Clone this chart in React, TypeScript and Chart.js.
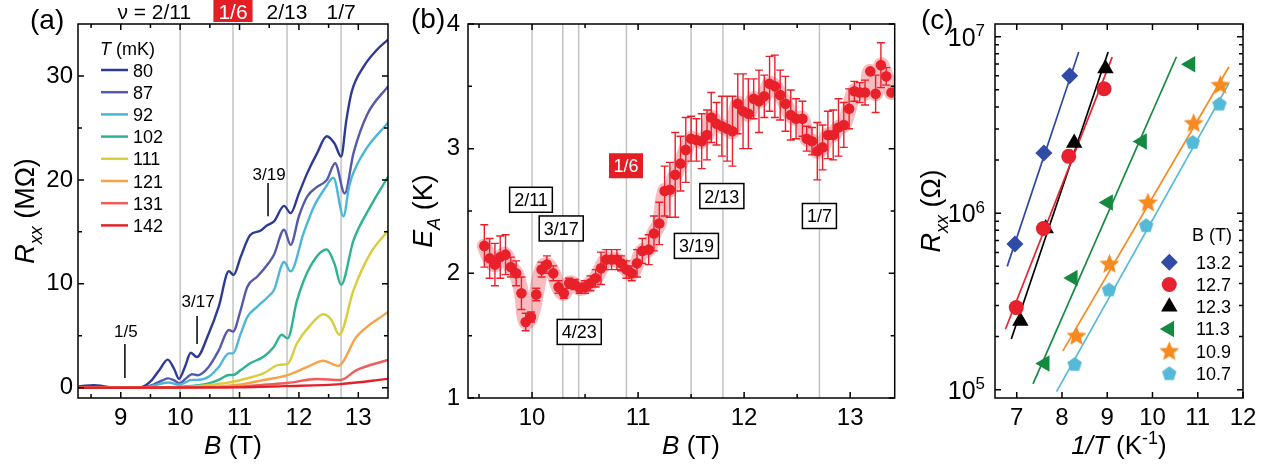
import React, { useEffect, useRef } from "react";
import { Chart, registerables } from "chart.js";
import { drawPoint } from "chart.js/helpers";

Chart.register(...registerables);

const FONT = "'Liberation Sans', Arial, Helvetica, sans-serif";
Chart.defaults.font.family = FONT;
Chart.defaults.color = "#000";

// ================= Panel (a): Rxx (MΩ) vs B (T) =================
const tempsA = ["80", "87", "92", "102", "111", "121", "131", "142"];
const colorsA = ["#2e3b95", "#5559ab", "#4cb6d8", "#2db392", "#d8cd3c", "#f7a247", "#f25b5b", "#e2222a"];

const bA80 = [8.28, 8.4, 8.55, 8.7, 8.85, 9.2, 9.35, 9.5, 9.65, 9.79, 9.9, 9.98, 10.08, 10.18, 10.28, 10.48, 10.65, 10.82, 10.9, 11.02, 11.18, 11.35, 11.46, 11.58, 11.75, 11.86, 12.0, 12.14, 12.3, 12.47, 12.6, 12.71, 12.8, 12.89, 13.09, 13.31, 13.5];
const rA80 = [0.1, 0.2, 0.25, 0.15, 0.02, 0.0, 0.05, 0.6, 1.7, 2.7, 1.8, 0.85, 2.0, 3.37, 2.95, 5.2, 7.8, 11.2, 10.85, 12.6, 14.7, 15.1, 15.6, 16.0, 17.5, 16.8, 18.7, 20.65, 22.5, 24.2, 23.5, 22.25, 25.8, 28.5, 30.9, 32.5, 33.5];
const bA87 = [8.28, 9.2, 9.4, 9.55, 9.7, 9.8, 9.9, 9.99, 10.1, 10.2, 10.29, 10.48, 10.65, 10.82, 10.89, 11.02, 11.13, 11.3, 11.49, 11.58, 11.75, 11.86, 12.0, 12.14, 12.3, 12.47, 12.61, 12.77, 12.92, 13.15, 13.5];
const rA87 = [0, 0, 0.03, 0.3, 0.7, 0.9, 0.7, 0.42, 0.9, 1.3, 1.2, 2.0, 3.6, 5.55, 5.4, 7.5, 9.7, 10.7, 12.0, 12.8, 15.2, 13.75, 16.5, 18.4, 19.3, 20.0, 21.6, 18.7, 22.6, 26.3, 29.0];
const bA92 = [8.28, 9.2, 9.4, 9.55, 9.8, 9.99, 10.2, 10.29, 10.48, 10.65, 10.82, 10.89, 11.02, 11.13, 11.3, 11.49, 11.58, 11.75, 11.86, 12.08, 12.25, 12.44, 12.58, 12.75, 12.85, 13.09, 13.5];
const rA92 = [0, 0, 0.02, 0.2, 0.5, 0.3, 0.75, 0.75, 1.06, 2.0, 3.3, 3.3, 5.2, 6.8, 7.8, 8.8, 9.4, 12.1, 11.2, 14.9, 17.4, 19.2, 20.2, 16.5, 19.5, 22.6, 25.5];
const bA102 = [8.28, 9.5, 10.0, 10.48, 10.65, 10.82, 10.89, 11.02, 11.18, 11.41, 11.58, 11.71, 11.81, 11.97, 12.19, 12.47, 12.6, 12.71, 12.92, 13.2, 13.5];
const rA102 = [0, 0, 0.1, 0.42, 0.75, 1.22, 1.22, 1.7, 2.35, 3.0, 3.95, 5.1, 4.75, 8.45, 11.65, 13.3, 11.9, 9.9, 14.2, 17.4, 20.3];
const bA111 = [8.28, 9.8, 10.48, 10.82, 11.02, 11.41, 11.66, 11.81, 11.97, 12.19, 12.41, 12.55, 12.68, 12.92, 13.2, 13.5];
const rA111 = [0, 0, 0.26, 0.5, 0.74, 1.4, 2.2, 2.3, 4.3, 6.0, 7.07, 6.5, 5.1, 9.4, 12.9, 15.1];
const bA121 = [8.28, 10.3, 11.02, 11.41, 11.81, 12.14, 12.41, 12.66, 12.97, 13.5];
const rA121 = [0, 0.05, 0.32, 0.74, 1.22, 2.0, 2.6, 2.1, 4.9, 7.3];
const bA131 = [8.28, 10.8, 11.41, 11.81, 12.3, 12.7, 12.97, 13.5];
const rA131 = [0, 0.05, 0.3, 0.45, 0.84, 0.74, 1.7, 2.67];
const bA142 = [8.28, 11.0, 11.75, 12.7, 13.5];
const rA142 = [0, 0.03, 0.15, 0.35, 0.85];

const seriesA = [
  { b: bA80, r: rA80 }, { b: bA87, r: rA87 }, { b: bA92, r: rA92 }, { b: bA102, r: rA102 },
  { b: bA111, r: rA111 }, { b: bA121, r: rA121 }, { b: bA131, r: rA131 }, { b: bA142, r: rA142 },
];
const gridA = [10.0, 10.89, 11.8, 12.71];
const topLabelsA = ["2/11", "1/6", "2/13", "1/7"];
const annLabelsA = ["3/19", "3/17", "1/5"];
const annBA = [11.48, 10.285, 9.07];
const annTopA = [19.7, 6.9, 4.2];
const annBotA = [16.5, 4.2, 0.93];
const annTextA = [20.0, 7.76, 4.88];

// ================= Panel (b): E_A (K) vs B (T) =================
const bB = [9.55, 9.60, 9.65, 9.70, 9.75, 9.80, 9.85, 9.90, 9.94, 9.99, 10.04, 10.09, 10.14, 10.20, 10.25, 10.30, 10.35, 10.40, 10.45, 10.50, 10.55, 10.60, 10.65, 10.70, 10.75, 10.80, 10.84, 10.89, 10.94, 10.99, 11.04, 11.10, 11.15, 11.20, 11.25, 11.30, 11.35, 11.40, 11.45, 11.50, 11.55, 11.60, 11.65, 11.69, 11.74, 11.79, 11.84, 11.89, 11.94, 11.99, 12.04, 12.09, 12.14, 12.19, 12.24, 12.29, 12.34, 12.39, 12.44, 12.49, 12.55, 12.59, 12.64, 12.69, 12.74, 12.79, 12.84, 12.89, 12.94, 12.99, 13.04, 13.09, 13.14, 13.19, 13.24, 13.29, 13.34, 13.39];
const eB = [2.22, 2.12, 2.07, 2.13, 2.15, 2.05, 2.00, 1.84, 1.61, 1.65, 1.83, 2.03, 2.07, 2.00, 1.89, 1.84, 1.92, 1.91, 1.88, 1.89, 1.92, 1.96, 2.04, 2.11, 2.11, 2.11, 2.08, 2.03, 2.00, 2.08, 2.18, 2.19, 2.32, 2.40, 2.66, 2.67, 2.79, 2.88, 2.99, 3.08, 3.07, 3.06, 3.11, 3.25, 3.20, 3.18, 3.16, 3.14, 3.36, 3.30, 3.28, 3.40, 3.38, 3.42, 3.52, 3.50, 3.43, 3.36, 3.27, 3.24, 3.24, 3.08, 3.06, 2.98, 3.01, 3.11, 3.11, 3.17, 3.19, 3.32, 3.46, 3.45, 3.45, 3.62, 3.44, 3.67, 3.58, 3.45];
const errB = [0.17, 0.16, 0.17, 0.17, 0.16, 0.08, 0.10, 0.13, 0.07, 0.04, 0.05, 0.06, 0.07, 0.06, 0.05, 0.04, 0.04, 0.04, 0.04, 0.05, 0.06, 0.07, 0.13, 0.08, 0.08, 0.08, 0.06, 0.07, 0.06, 0.11, 0.10, 0.12, 0.14, 0.17, 0.20, 0.22, 0.34, 0.22, 0.26, 0.18, 0.17, 0.22, 0.20, 0.20, 0.17, 0.24, 0.26, 0.28, 0.24, 0.30, 0.28, 0.16, 0.25, 0.17, 0.22, 0.25, 0.20, 0.22, 0.20, 0.16, 0.14, 0.10, 0.11, 0.23, 0.18, 0.19, 0.20, 0.23, 0.18, 0.16, 0.08, 0.08, 0.10, 0.0, 0.15, 0.18, 0.07, 0.0];
const gridB = [10.0, 10.29, 10.44, 10.89, 11.5, 11.8, 12.71];
const boxLabelsB = ["2/11", "3/17", "4/23", "3/19", "2/13", "1/7", "1/6"];
const boxBB = [9.99, 10.275, 10.445, 11.55, 11.79, 12.71, 10.886];
const boxEB = [2.59, 2.36, 1.53, 2.22, 2.62, 2.46, 2.863];

// ================= Panel (c): Rxx (Ω) vs 1/T (1/K) =================
const fieldsC = ["13.2", "12.7", "12.3", "11.3", "10.9", "10.7"];
const colorsC = ["#2f4ba6", "#e8212e", "#000000", "#138a3f", "#f68a1f", "#55b9d8"];
const invT132 = [6.96, 7.60, 8.17];
const rC132 = [6.7e5, 2.19e6, 6.0e6];
const invT127 = [6.99, 7.59, 8.15, 8.93];
const rC127 = [2.92e5, 8.2e5, 2.1e6, 5.07e6];
const invT123 = [7.08, 7.64, 8.27, 8.96];
const rC123 = [2.45e5, 8.2e5, 2.5e6, 6.6e6];
const invT113 = [7.62, 8.24, 9.02, 9.77, 10.84];
const rC113 = [1.41e5, 4.3e5, 1.15e6, 2.55e6, 6.98e6];
const invT109 = [8.32, 9.05, 9.90, 10.91, 11.50];
const rC109 = [2.02e5, 5.17e5, 1.15e6, 3.24e6, 5.33e6];
const invT107 = [8.28, 9.04, 9.86, 10.89, 11.48];
const rC107 = [1.40e5, 3.7e5, 8.55e5, 2.53e6, 4.17e6];
// fitted (Arrhenius) lines, end points
const fitX132 = [6.79, 8.37]; const fitR132 = [5.0e5, 8.2e6];
const fitX127 = [6.75, 9.11]; const fitR127 = [2.2e5, 7.66e6];
const fitX123 = [6.88, 9.02]; const fitR123 = [1.94e5, 8.2e6];
const fitX113 = [7.36, 10.53]; const fitR113 = [1.08e5, 7.7e6];
const fitX109 = [8.02, 11.69]; const fitR109 = [1.66e5, 6.76e6];
const fitX107 = [7.88, 11.69]; const fitR107 = [9.75e4, 5.46e6];

const pointsC = [
  { x: invT132, y: rC132 }, { x: invT127, y: rC127 }, { x: invT123, y: rC123 },
  { x: invT113, y: rC113 }, { x: invT109, y: rC109 }, { x: invT107, y: rC107 },
];
const fitsC = [
  { x: fitX132, y: fitR132 }, { x: fitX127, y: fitR127 }, { x: fitX123, y: fitR123 },
  { x: fitX113, y: fitR113 }, { x: fitX109, y: fitR109 }, { x: fitX107, y: fitR107 },
];

// ================= helpers =================
type Seg = { t: string; it?: boolean; sub?: boolean; sup?: boolean };
const fnt = (size: number, it?: boolean) => `${it ? "italic " : ""}${size}px ${FONT}`;

function drawRich(ctx: CanvasRenderingContext2D, segs: Seg[], x: number, y: number, size: number,
  align: "left" | "center" | "right" = "center", rot = 0, color = "#000") {
  ctx.save();
  ctx.translate(x, y);
  if (rot) ctx.rotate(rot);
  ctx.fillStyle = color;
  ctx.textBaseline = "alphabetic";
  ctx.textAlign = "left";
  const parts = segs.map((s) => {
    const sz = s.sub || s.sup ? Math.round(size * 0.68) : size;
    ctx.font = fnt(sz, s.it);
    return { s, sz, w: ctx.measureText(s.t).width };
  });
  const total = parts.reduce((a, p) => a + p.w, 0);
  let cx = align === "center" ? -total / 2 : align === "right" ? -total : 0;
  for (const p of parts) {
    ctx.font = fnt(p.sz, p.s.it);
    const dy = p.s.sub ? size * 0.3 : p.s.sup ? -size * 0.38 : 0;
    ctx.fillText(p.s.t, cx, dy);
    cx += p.w;
  }
  ctx.restore();
}

function framePlugin(cfg: { xMajor: number[]; xMinor: number[]; yMajor: number[]; yMinor: number[]; grid: number[] }) {
  return {
    id: "frame",
    beforeDatasetsDraw(chart: any) {
      const { ctx, chartArea: a, scales } = chart;
      ctx.save();
      ctx.strokeStyle = "#c3c3c3";
      ctx.lineWidth = 1.5;
      for (const g of cfg.grid) {
        const px = scales.x.getPixelForValue(g);
        ctx.beginPath();
        ctx.moveTo(px, a.top);
        ctx.lineTo(px, a.bottom);
        ctx.stroke();
      }
      ctx.restore();
    },
    afterDatasetsDraw(chart: any) {
      const { ctx, chartArea: a, scales } = chart;
      ctx.save();
      ctx.strokeStyle = "#000";
      ctx.lineWidth = 1.5;
      ctx.beginPath();
      const xt = (vals: number[], len: number) => {
        for (const v of vals) {
          const p = scales.x.getPixelForValue(v);
          ctx.moveTo(p, a.bottom); ctx.lineTo(p, a.bottom - len);
          ctx.moveTo(p, a.top); ctx.lineTo(p, a.top + len);
        }
      };
      const yt = (vals: number[], len: number) => {
        for (const v of vals) {
          const p = scales.y.getPixelForValue(v);
          ctx.moveTo(a.left, p); ctx.lineTo(a.left + len, p);
          ctx.moveTo(a.right, p); ctx.lineTo(a.right - len, p);
        }
      };
      xt(cfg.xMajor, 6); xt(cfg.xMinor, 4);
      yt(cfg.yMajor, 6); yt(cfg.yMinor, 4);
      ctx.stroke();
      ctx.strokeRect(a.left, a.top, a.right - a.left, a.bottom - a.top);
      ctx.restore();
    },
  };
}

function axisScale(min: number, max: number, ticks: number[], fitKey: "width" | "height", fitVal: number, pad: number, type = "linear", showTicks = true) {
  return {
    type,
    min,
    max,
    grid: { display: false, drawTicks: false },
    border: { display: false },
    ticks: { display: showTicks, font: { size: 24, family: FONT }, color: "#000", padding: pad, maxRotation: 0, autoSkip: false },
    afterBuildTicks: (s: any) => { s.ticks = ticks.map((v) => ({ value: v })); },
    afterFit: (s: any) => { s[fitKey] = fitVal; },
  };
}

const baseOpts = (W: number, top: number, right: number) => ({
  responsive: false,
  animation: false as const,
  events: [] as any[],
  layout: { padding: { left: 0, top, right: W - right, bottom: 0 } },
  plugins: { legend: { display: false }, tooltip: { enabled: false } },
});

// ================= Panel builders =================
function makeA(canvas: HTMLCanvasElement) {
  const W = 400, H = 469, L = 78, R = 388, T = 24, B = 398;
  const deco = {
    id: "decoA",
    afterDraw(chart: any) {
      const { ctx, scales } = chart;
      const x = scales.x, y = scales.y;
      drawRich(ctx, [{ t: "(a)" }], 30, 29, 28, "left");
      topLabelsA.forEach((lab, i) => {
        const px = x.getPixelForValue(gridA[i]);
        if (i === 0) {
          drawRich(ctx, [{ t: "ν = " + lab }], px + 11, 18.5, 21, "right");
        } else if (lab === "1/6") {
          ctx.save();
          ctx.font = fnt(21);
          const w = ctx.measureText(lab).width + 10;
          ctx.fillStyle = "#e31e24";
          ctx.fillRect(px - w / 2, 0, w, 22);
          ctx.restore();
          drawRich(ctx, [{ t: lab }], px, 18.5, 21, "center", 0, "#fff");
        } else {
          drawRich(ctx, [{ t: lab }], px, 18.5, 21, "center");
        }
      });
      drawRich(ctx, [{ t: "T", it: true }, { t: " (mK)" }], 100, 55, 18, "left");
      tempsA.forEach((t, i) => {
        const yy = 70 + 22.2 * i;
        ctx.save();
        ctx.strokeStyle = colorsA[i];
        ctx.lineWidth = 2.5;
        ctx.beginPath();
        ctx.moveTo(101, yy);
        ctx.lineTo(128, yy);
        ctx.stroke();
        ctx.restore();
        drawRich(ctx, [{ t }], 133, yy + 6.5, 18, "left");
      });
      annLabelsA.forEach((lab, i) => {
        const px = x.getPixelForValue(annBA[i]);
        ctx.save();
        ctx.strokeStyle = "#000";
        ctx.lineWidth = 1.5;
        ctx.beginPath();
        ctx.moveTo(px, y.getPixelForValue(annTopA[i]));
        ctx.lineTo(px, y.getPixelForValue(annBotA[i]));
        ctx.stroke();
        ctx.restore();
        drawRich(ctx, [{ t: lab }], px + 1, y.getPixelForValue(annTextA[i]), 17, "center");
      });
      drawRich(ctx, [{ t: "B", it: true }, { t: " (T)" }], (L + R) / 2, 454, 26, "center");
      drawRich(ctx, [{ t: "R", it: true }, { t: "xx", it: true, sub: true }, { t: " (MΩ)" }], 34, 211, 27, "center", -Math.PI / 2);
    },
  };
  return new Chart(canvas, {
    type: "line",
    data: {
      datasets: seriesA.map((s, i) => ({
        label: tempsA[i],
        data: s.b.map((b, k) => ({ x: b, y: s.r[k] })),
        borderColor: colorsA[i],
        borderWidth: 2.4,
        pointRadius: 0,
        fill: false,
        cubicInterpolationMode: "monotone",
        order: 10 - i,
      })),
    },
    options: {
      ...baseOpts(W, T, R),
      scales: {
        x: axisScale(8.28, 13.5, [9, 10, 11, 12, 13], "height", H - B, 6),
        y: axisScale(-0.99, 35, [0, 10, 20, 30], "width", L, 5),
      },
    } as any,
    plugins: [framePlugin({ xMajor: [9, 10, 11, 12, 13], xMinor: [8.5, 9.5, 10.5, 11.5, 12.5], yMajor: [0, 10, 20, 30], yMinor: [5, 15, 25], grid: gridA }), deco],
  });
}

function makeB(canvas: HTMLCanvasElement) {
  const W = 500, H = 469, L = 68, R = 495, T = 24, B = 398;
  const RED = "#e8202a";
  const pts = bB.map((b, k) => ({ x: b, y: eB[k] }));
  const errPlugin = {
    id: "errB",
    beforeDatasetDraw(chart: any, args: any) {
      if (args.index !== 1) return;
      const { ctx, scales } = chart;
      ctx.save();
      ctx.strokeStyle = RED;
      ctx.lineWidth = 1.4;
      ctx.beginPath();
      bB.forEach((b, k) => {
        const e = errB[k];
        if (!e) return;
        const px = scales.x.getPixelForValue(b);
        const y1 = scales.y.getPixelForValue(eB[k] + e);
        const y0 = scales.y.getPixelForValue(eB[k] - e);
        ctx.moveTo(px, y1); ctx.lineTo(px, y0);
        ctx.moveTo(px - 4, y1); ctx.lineTo(px + 4, y1);
        ctx.moveTo(px - 4, y0); ctx.lineTo(px + 4, y0);
      });
      ctx.stroke();
      ctx.restore();
    },
  };
  const deco = {
    id: "decoB",
    afterDraw(chart: any) {
      const { ctx, scales } = chart;
      drawRich(ctx, [{ t: "(b)" }], 11, 28, 28, "left");
      boxLabelsB.forEach((lab, i) => {
        const cx = scales.x.getPixelForValue(boxBB[i]);
        const cy = scales.y.getPixelForValue(boxEB[i]);
        ctx.save();
        ctx.font = fnt(18);
        const w = ctx.measureText(lab).width + 9;
        const h = 25;
        if (lab === "1/6") {
          ctx.fillStyle = "#e31e24";
          ctx.fillRect(cx - w / 2, cy - h / 2, w, h);
        } else {
          ctx.fillStyle = "#fff";
          ctx.fillRect(cx - w / 2, cy - h / 2, w, h);
          ctx.strokeStyle = "#000";
          ctx.lineWidth = 1.5;
          ctx.strokeRect(cx - w / 2, cy - h / 2, w, h);
        }
        ctx.restore();
        drawRich(ctx, [{ t: lab }], cx, cy + 6.5, 18, "center", 0, lab === "1/6" ? "#fff" : "#000");
      });
      drawRich(ctx, [{ t: "B", it: true }, { t: " (T)" }], 291, 454, 26, "center");
      drawRich(ctx, [{ t: "E", it: true }, { t: "A", it: true, sub: true }, { t: " (K)" }], 32, 211, 27, "center", -Math.PI / 2);
    },
  };
  return new Chart(canvas, {
    type: "line",
    data: {
      datasets: [
        {
          data: pts,
          borderColor: "rgba(236,70,80,0.36)",
          borderWidth: 15,
          borderCapStyle: "round",
          borderJoinStyle: "round",
          pointRadius: 0,
          tension: 0.45,
          fill: false,
          order: 2,
        },
        {
          data: pts,
          showLine: false,
          pointRadius: 5.3,
          pointBackgroundColor: RED,
          pointBorderWidth: 0,
          order: 1,
        },
      ],
    },
    options: {
      ...baseOpts(W, T, R),
      scales: {
        x: axisScale(9.396, 13.42, [10, 11, 12, 13], "height", H - B, 6),
        y: axisScale(1, 4, [1, 2, 3, 4], "width", L, 8),
      },
    } as any,
    plugins: [framePlugin({ xMajor: [10, 11, 12, 13], xMinor: [9.5, 10.5, 11.5, 12.5], yMajor: [1, 2, 3, 4], yMinor: [1.5, 2.5, 3.5], grid: gridB }), errPlugin, deco],
  });
}

function polyImage(color: string, R: number, n: number, inner?: number) {
  const s = Math.ceil(R * 2 + 2);
  const c = document.createElement("canvas");
  c.width = s; c.height = s;
  const g = c.getContext("2d")!;
  g.fillStyle = color;
  g.beginPath();
  const m = inner ? n * 2 : n;
  for (let k = 0; k < m; k++) {
    const r = inner && k % 2 === 1 ? R * inner : R;
    const a = -Math.PI / 2 + (k * 2 * Math.PI) / m;
    const px = s / 2 + r * Math.cos(a);
    const py = s / 2 + 0.5 + r * Math.sin(a);
    if (k === 0) g.moveTo(px, py); else g.lineTo(px, py);
  }
  g.closePath();
  g.fill();
  return c;
}

function makeC(canvas: HTMLCanvasElement) {
  const W = 376, H = 469, L = 95, R = 343, T = 24, B = 398;
  const star = polyImage(colorsC[4], 10.5, 5, 0.45);
  const penta = polyImage(colorsC[5], 7.6, 5);
  const styles: any[] = [
    { pointStyle: "rectRot", radius: 8.5, rotation: 0 },
    { pointStyle: "circle", radius: 7.5, rotation: 0 },
    { pointStyle: "triangle", radius: 9.5, rotation: 0 },
    { pointStyle: "triangle", radius: 9.5, rotation: -90 },
    { pointStyle: star, radius: 10, rotation: 0 },
    { pointStyle: penta, radius: 8, rotation: 0 },
  ];
  const decades = [1e5, 1e6, 1e7];
  const minorY: number[] = [];
  [1e5, 1e6].forEach((d) => { for (let m = 2; m <= 9; m++) minorY.push(m * d); });
  const deco = {
    id: "decoC",
    afterDraw(chart: any) {
      const { ctx, scales, chartArea: a } = chart;
      drawRich(ctx, [{ t: "(c)" }], 21, 29, 28, "left");
      decades.forEach((v) => {
        const py = scales.y.getPixelForValue(v);
        drawRich(ctx, [{ t: "10" }, { t: String(Math.round(Math.log10(v))), sup: true }], a.left - 10, py + 9, 25, "right");
      });
      drawRich(ctx, [{ t: "B (T)" }], 312, 241, 18, "center");
      fieldsC.forEach((f, i) => {
        const yy = 262.3 + 22.2 * i;
        ctx.save();
        ctx.fillStyle = colorsC[i];
        drawPoint(ctx, { ...styles[i], borderWidth: 0 } as any, 269.3, yy);
        ctx.restore();
        drawRich(ctx, [{ t: f }], 296, yy + 6.5, 18, "left");
      });
      drawRich(ctx, [{ t: "1/T", it: true }, { t: " (K" }, { t: "-1", sup: true }, { t: ")" }], (L + R) / 2, 454, 26, "center");
      drawRich(ctx, [{ t: "R", it: true }, { t: "xx", it: true, sub: true }, { t: " (Ω)" }], 40, 211, 27, "center", -Math.PI / 2);
    },
  };
  const fitSets = fitsC.map((f, i) => ({
    data: f.x.map((x, k) => ({ x, y: f.y[k] })),
    showLine: true,
    borderColor: colorsC[i],
    borderWidth: 1.7,
    pointRadius: 0,
    order: 20 + i,
  }));
  const ptSets = pointsC.map((p, i) => ({
    label: fieldsC[i],
    data: p.x.map((x, k) => ({ x, y: p.y[k] })),
    showLine: false,
    pointStyle: styles[i].pointStyle,
    pointRadius: styles[i].radius,
    pointRotation: styles[i].rotation,
    pointBackgroundColor: colorsC[i],
    pointBorderWidth: 0,
    order: i,
  }));
  return new Chart(canvas, {
    type: "scatter",
    data: { datasets: [...fitSets, ...ptSets] as any },
    options: {
      ...baseOpts(W, T, R),
      scales: {
        x: axisScale(6.52, 12, [7, 8, 9, 10, 11, 12], "height", H - B, 6),
        y: axisScale(8.98e4, 1.18e7, decades, "width", L, 8, "logarithmic", false),
      },
    } as any,
    plugins: [framePlugin({ xMajor: [7, 8, 9, 10, 11, 12], xMinor: [], yMajor: decades, yMinor: minorY, grid: [] }), deco],
  });
}

export default function App() {
  const refA = useRef<HTMLCanvasElement>(null);
  const refB = useRef<HTMLCanvasElement>(null);
  const refC = useRef<HTMLCanvasElement>(null);
  useEffect(() => {
    const charts = [makeA(refA.current!), makeB(refB.current!), makeC(refC.current!)];
    return () => charts.forEach((c) => c.destroy());
  }, []);
  const cs = (left: number, width: number): React.CSSProperties => ({ position: "absolute", left, top: 0, width, height: 469 });
  return (
    <div style={{ position: "absolute", left: 0, top: 0, width: 1276, height: 469, background: "#fff", overflow: "hidden" }}>
      <canvas ref={refA} width={400} height={469} style={cs(0, 400)} />
      <canvas ref={refB} width={500} height={469} style={cs(400, 500)} />
      <canvas ref={refC} width={376} height={469} style={cs(900, 376)} />
    </div>
  );
}
